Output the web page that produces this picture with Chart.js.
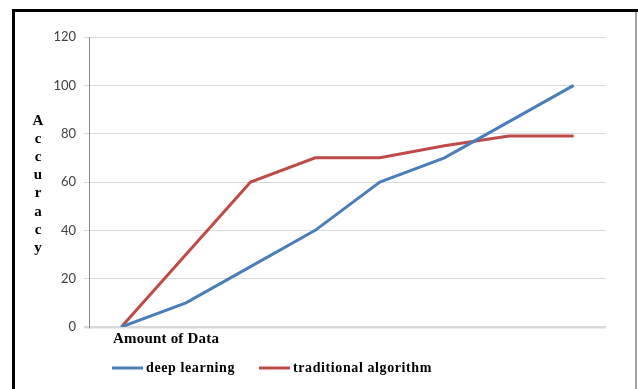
<!DOCTYPE html>
<html>
<head>
<meta charset="utf-8">
<script src="https://cdn.jsdelivr.net/npm/chart.js@4.4.0/dist/chart.umd.min.js"></script>
<style>
  html, body { margin: 0; padding: 0; background: #fff; }
  #wrap { position: relative; width: 638px; height: 389px; }
</style>
</head>
<body>
<div id="wrap"><canvas id="accChart" width="638" height="389"></canvas></div>
<script>
// chart data
const categories = ['1', '2', '3', '4', '5', '6', '7', '8'];
const deepLearning = [0, 10, 25, 40, 60, 70, 85, 100];
const traditional = [0, 30, 60, 70, 70, 75, 79, 79];
const yMin = 0, yMax = 120, yStep = 20;
const yTitle = 'Accuracy';
const xTitle = 'Amount of Data';
const seriesNames = ['deep learning', 'traditional algorithm'];
const seriesColors = ['#4a7ebb', '#be4b48'];

const serifBold = 'bold 15px "Liberation Serif", "Times New Roman", serif';

// frame, stacked y title, x title and legend drawn by hand
const decorations = {
  id: 'decorations',
  afterDraw(chart) {
    const c = chart.ctx;
    c.save();

    // outer frame
    c.fillStyle = '#000';
    c.fillRect(12, 9, 626, 3);
    c.fillRect(12, 9, 3, 380);
    c.fillStyle = '#a0a0a0';
    c.fillRect(635, 12, 2, 377);

    // vertical letters "Accuracy"
    c.fillStyle = '#000';
    c.font = serifBold;
    c.textAlign = 'center';
    c.textBaseline = 'alphabetic';
    yTitle.split('').forEach((ch, i) => {
      c.fillText(ch, 38, 125 + i * 18.1);
    });

    // x title
    c.textAlign = 'left';
    c.letterSpacing = '0.2px';
    c.fillText(xTitle, 113, 343);

    // legend
    c.font = 'bold 14px "Liberation Serif", "Times New Roman", serif';
    c.letterSpacing = '0.6px';
    const legendX = [112, 259];
    chart.data.datasets.forEach((ds, i) => {
      const x = legendX[i];
      c.strokeStyle = ds.borderColor;
      c.lineWidth = 3;
      c.beginPath();
      c.moveTo(x, 368);
      c.lineTo(x + 31, 368);
      c.stroke();
      c.fillStyle = '#000';
      c.fillText(ds.label, x + 34, 372);
    });

    c.restore();
  }
};

const ctx = document.getElementById('accChart').getContext('2d');

const accChart = new Chart(ctx, {
  type: 'line',
  data: {
    labels: categories,
    datasets: [
      {
        label: seriesNames[0],
        data: deepLearning,
        borderColor: seriesColors[0],
        borderWidth: 3,
        pointRadius: 0,
        tension: 0,
        fill: false,
      },
      {
        label: seriesNames[1],
        data: traditional,
        borderColor: seriesColors[1],
        borderWidth: 3,
        pointRadius: 0,
        tension: 0,
        fill: false,
      },
    ],
  },
  options: {
    responsive: false,
    animation: false,
    layout: {
      padding: { top: 37, right: 32, bottom: 62, left: 0 },
    },
    scales: {
      x: {
        display: false,
        offset: true,
      },
      y: {
        min: yMin,
        max: yMax,
        afterFit(scale) { scale.width = 89; },
        ticks: {
          stepSize: yStep,
          padding: 8,
          color: '#404040',
          font: { family: 'Lato', size: 13 },
        },
        grid: {
          color: '#d9d9d9',
          lineWidth: (c) => (c.tick && c.tick.value === 0 ? 2.5 : 1),
          tickLength: 5,
        },
        border: { color: '#868686', width: 1 },
      },
    },
    plugins: {
      legend: { display: false },
      tooltip: { enabled: false },
    },
  },
  plugins: [decorations],
});
</script>
</body>
</html>
